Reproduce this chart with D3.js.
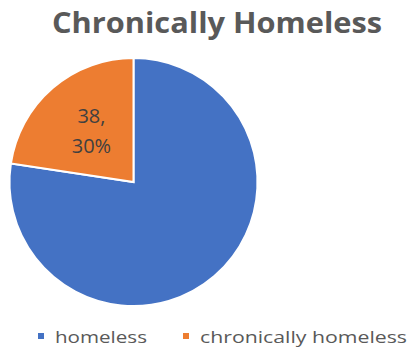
<!DOCTYPE html>
<html><head><meta charset="utf-8">
<script src="https://cdn.jsdelivr.net/npm/d3@7"></script>
<style>body{margin:0;background:#fff}svg{display:block}</style>
</head><body>
<svg id="c" width="412" height="350"></svg>
<script>
const title = "Chronically Homeless";
const categories = ["homeless", "chronically homeless"];
const values = [130, 38];
const colors = ["#4472C4", "#ED7D31"];
const sliceLabels = [null, ["38,", "30%"]];

const svg = d3.select("#c");
const cx = 133.5, cy = 182, r = 124;

svg.append("text").attr("x", 217).attr("y", 33)
  .attr("text-anchor", "middle")
  .attr("font-family", "'Open Sans', sans-serif").attr("font-weight", "bold")
  .attr("font-size", 29).attr("fill", "#595959")
  .attr("textLength", 330).attr("lengthAdjust", "spacingAndGlyphs")
  .text(title);

const data = categories.map((c, i) => ({cat: c, value: values[i], color: colors[i], label: sliceLabels[i]}));
const pie = d3.pie().value(d => d.value).sort(null);
const arc = d3.arc().innerRadius(0).outerRadius(r);
const labelArc = d3.arc().innerRadius(r * 0.52).outerRadius(r * 0.52);
const arcs = pie(data);

const g = svg.append("g").attr("transform", `translate(${cx},${cy})`);
g.selectAll("path").data(arcs).join("path")
  .attr("d", arc).attr("fill", d => d.data.color)
  .attr("stroke", "#fff").attr("stroke-width", 2).attr("stroke-linejoin", "miter");

arcs.filter(d => d.data.label).forEach(d => {
  const [x, y] = labelArc.centroid(d);
  const t = g.append("text").attr("text-anchor", "middle")
    .attr("font-family", "'Open Sans', sans-serif").attr("font-size", 20)
    .attr("font-weight", 500)
    .attr("fill", "#404040");
  d.data.label.forEach((line, i) => {
    t.append("tspan").attr("x", x).attr("y", y - 10 + i * 30).text(line);
  });
});

const legend = svg.append("g");
const items = [{x: 38, tx: 55, w: 92}, {x: 183, tx: 200, w: 207}];
data.forEach((d, i) => {
  legend.append("rect").attr("x", items[i].x).attr("y", 333).attr("width", 6).attr("height", 6).attr("fill", d.color);
  legend.append("text").attr("x", items[i].tx).attr("y", 343)
    .attr("font-family", "'Open Sans', sans-serif").attr("font-size", 17).attr("fill", "#595959")
    .attr("font-weight", 500)
    .attr("textLength", items[i].w).attr("lengthAdjust", "spacingAndGlyphs")
    .text(d.cat);
});
</script>
</body></html>
